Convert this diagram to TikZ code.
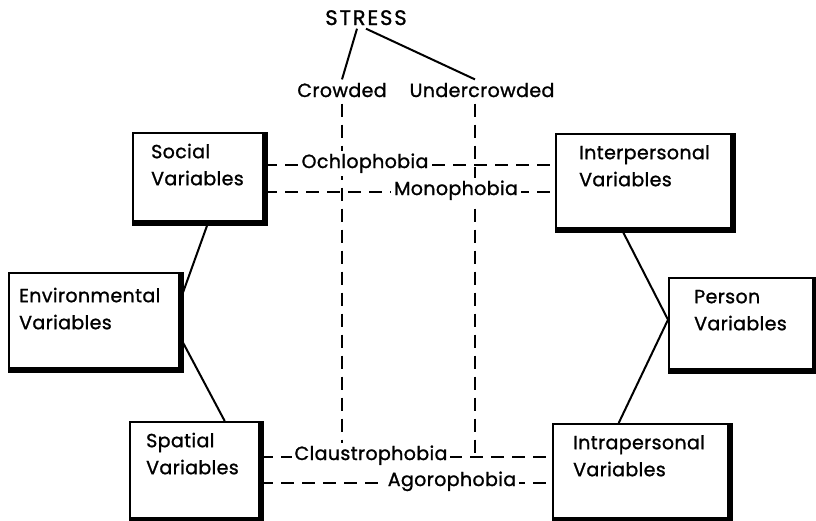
\documentclass[tikz,border=0pt]{standalone}
\usepackage{fontspec}
\setmainfont{Poppins}[UprightFeatures={FakeBold=1.2}, LetterSpace=2]
\usetikzlibrary{positioning, backgrounds}

\begin{document}
\begin{tikzpicture}[x=1pt, y=-1pt, every node/.style={font=\fontsize{19}{27}\selectfont},
  box/.style={draw, line width=2.4pt, fill=white, align=left, anchor=north west,
    inner ysep=0pt, text height=25pt},
  phobia/.style={fill=white, inner sep=3pt, anchor=base},
  dashline/.style={line width=2.4pt, dash pattern=on 13pt off 8pt},
  link/.style={line width=2pt}]
\useasboundingbox (0,0) rectangle (816,520);

% Variable boxes
\node[box, text width=94pt, inner xsep=18pt, text depth=63pt] (social) at (132,132) {Social\\Variables};
\node[box, text width=129pt, inner xsep=23pt, text depth=69pt] (interp) at (555,133) {Interpersonal\\Variables};
\node[box, text width=150pt, inner xsep=10pt, text height=29pt, text depth=66pt] (env) at (8,272) {Environmental\\Variables};
\node[box, text width=94pt, inner xsep=25pt, text depth=66pt] (person) at (668,277) {Person\\Variables};
\node[box, text width=97pt, inner xsep=16pt, text depth=71pt] (spatial) at (129,421) {Spatial\\Variables};
\node[box, text width=135pt, inner xsep=20pt, text depth=69pt] (intra) at (552,423) {Intrapersonal\\Variables};
% heavy right and bottom edges
\foreach \b in {social, interp, env, person, spatial, intra}
  \draw[line width=4.5pt] ([xshift=1.2pt]\b.north east) -- ([xshift=1.2pt,yshift=-1.2pt]\b.south east) -- ([yshift=-1.2pt]\b.south west);

% Stress and crowding
\node[anchor=base, font=\fontsize{21}{27}\selectfont\addfontfeature{LetterSpace=9}] (stress) at (366,25) {STRESS};
\node[anchor=base] (crowd) at (342,97) {Crowded};
\node[anchor=base] (under) at (482,97) {Undercrowded};
\coordinate (utop) at ([xshift=-7pt]under.south);

% Phobias
\node[phobia] (ochlo) at (365,168) {Ochlophobia};
\node[phobia] (mono) at (456,195) {Monophobia};
\node[phobia] (claus) at (371,460) {Claustrophobia};
\node[phobia] (agora) at (452,486) {Agorophobia};

\begin{scope}[on background layer]
\draw[dashline] (social.east |- ochlo.mid) -- (interp.west |- ochlo.mid);
\draw[dashline] (social.east |- mono.mid) -- (interp.west |- mono.mid);
\draw[dashline] (spatial.east |- claus.mid) -- (intra.west |- claus.mid);
\draw[dashline] (spatial.east |- agora.mid) -- (intra.west |- agora.mid);
\draw[dashline] ([yshift=-3pt]crowd.south) -- (crowd.south |- claus.mid);
\draw[dashline] ([yshift=-3pt]utop) -- (utop |- claus.mid);
\end{scope}

% Links
\draw[link] ([xshift=-9pt]stress.south) -- (crowd.north);
\draw[link] (stress.south) -- ([xshift=-7pt]under.north);
\draw[link] ([xshift=10pt]social.south) -- ([yshift=21pt]env.east);
\draw[link] ([yshift=-17pt]env.east) -- ([xshift=30pt]spatial.north);
\draw[link] ([xshift=-22pt]interp.south) -- ([yshift=4pt]person.west) -- ([xshift=-22pt]intra.north);
\end{tikzpicture}
\end{document}
